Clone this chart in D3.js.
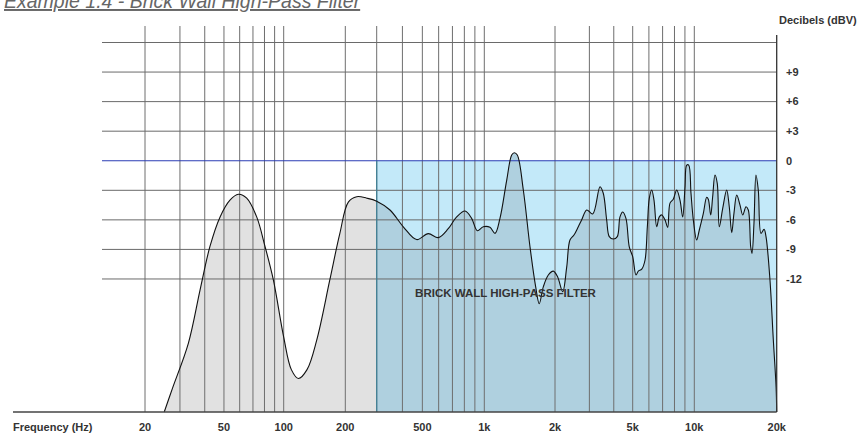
<!DOCTYPE html>
<html>
<head>
<meta charset="utf-8">
<script src="https://cdn.jsdelivr.net/npm/d3@7/dist/d3.min.js"></script>
<style>
  html, body { margin: 0; padding: 0; background: #fff; }
  svg { display: block; font-family: "Liberation Sans", Arial, Helvetica, sans-serif; }
</style>
</head>
<body>
<svg id="chart" width="859" height="433"></svg>
<script>
// Measured response (frequency in Hz, level in dBV)
const freqHz = [
  25, 27.5, 33.1, 37.9, 42.5, 47.8, 53.6, 59.1, 65.1, 73.1, 80.5, 88.7, 100,
  109, 118, 130, 145, 168, 188, 208, 232, 264, 300,
  348, 404, 469, 534, 598, 668, 734, 806, 868, 925, 989,
  1057, 1111, 1166, 1246, 1308, 1342, 1382, 1466, 1565, 1655, 1714, 1783, 1873, 1967,
  2064, 2190, 2296, 2386, 2502, 2632, 2740, 2907, 3120, 3400, 3534, 3678, 3794, 3978,
  4169, 4304, 4444, 4618, 4802,
  5000, 5190, 5325, 5536, 5742, 5896, 6028, 6192, 6354, 6549, 6745, 6930, 7190, 7413,
  7607, 7893, 8204, 8514, 8778, 9008, 9182, 9390, 9635, 9890,
  10200, 10430, 10790, 11100, 11250, 11480, 11670, 11900, 12130, 12340, 12700, 13130,
  13420, 13700, 13960, 14290, 14690, 15030, 15450, 15750, 16070, 16250, 16520, 16800,
  17130, 17530, 17980, 18280, 18900, 19440, 19900, 20000
];
const levelDb = [
  -25.5, -23.1, -18.5, -13.1, -8.7, -5.7, -4.0, -3.4, -3.8, -5.7, -8.7, -12.1, -17.9,
  -21.2, -22.1, -21.2, -18.2, -12.1, -7.4, -4.2, -3.65, -3.8, -4.1,
  -5.0, -6.7, -8.0, -7.4, -7.8, -6.9, -5.7, -5.1, -5.85, -7.1, -6.7,
  -6.76, -7.37, -5.85, -1.96, 0.58, 0.81, 0.58, -2.97, -8.73, -12.8, -14.5, -12.8, -11.6, -11.2,
  -11.8, -13.3, -10.8, -8.05, -7.54, -6.7, -6.0, -5.0, -5.4, -2.64, -3.3, -6.0, -7.7, -7.95,
  -7.7, -5.7, -5.2, -5.85, -8.73,
  -9.74, -11.6, -11.2, -11.0, -10.1, -6.7, -3.8, -2.97, -4.0, -6.7, -5.7, -5.5, -6.0, -6.76,
  -4.3, -3.9, -2.97, -4.0, -5.7, -2.64, -0.44, -0.44, -3.3, -6.0,
  -8.05, -7.03, -5.34, -3.71, -3.9, -5.5, -3.65, -1.45, -2.3, -6.7, -4.83, -2.97,
  -4.67, -7.3, -5.34, -3.48, -4.5, -5.5, -4.67, -5.0, -8.73, -9.4, -6.35, -1.45,
  -2.97, -7.37, -6.96, -7.7, -12.1, -18.2, -23.0, -25.5
];

// Grid and axis ticks
const freqGrid = [20, 30, 40, 50, 60, 70, 80, 90, 100, 200, 300, 400, 500, 600, 700, 800, 900,
                  1000, 2000, 3000, 4000, 5000, 6000, 7000, 8000, 9000, 10000];
const freqTicks = [20, 50, 100, 200, 500, 1000, 2000, 5000, 10000, 20000];
const freqTickLabels = ["20", "50", "100", "200", "500", "1k", "2k", "5k", "10k", "20k"];
const dbGrid = [12, 9, 6, 3, -3, -6, -9, -12];
const dbTicks = [9, 6, 3, 0, -3, -6, -9, -12];
const dbTickLabels = ["+9", "+6", "+3", "0", "-3", "-6", "-9", "-12"];

// Filter band: passes from 300 Hz up to 20 kHz, ceiling at 0 dBV
const filterLowHz = 300;
const filterHighHz = 20000;
const filterCeilingDb = 0;
const floorDb = -25.5;
const topDb = 12;

const svg = d3.select("#chart");

// Frequency axis drawn on a hand-spaced log grid (piecewise log scale)
const x = d3.scaleLog()
  .domain([20, 100, 200, 300, 1000, 2000, 5000, 10000, 20000])
  .range([145, 283.7, 345.3, 376.7, 484.3, 555, 632.7, 694.3, 776.7]);
const y = d3.scaleLinear().domain([floorDb, topDb]).range([412, 42.5]);

const gridLeft = 102;
const xMax = x(filterHighHz);
const yBottom = y(floorDb);

const data = freqHz.map((f, i) => ({ f, db: levelDb[i] }));

// Filter pass band
svg.append("rect")
  .attr("x", x(filterLowHz)).attr("y", y(filterCeilingDb))
  .attr("width", x(filterHighHz) - x(filterLowHz))
  .attr("height", yBottom - y(filterCeilingDb))
  .attr("fill", "#c3e9f9");

const defs = svg.append("defs");
defs.append("clipPath").attr("id", "belowFilter").append("rect")
  .attr("x", 0).attr("y", 0).attr("width", x(filterLowHz)).attr("height", 433);
defs.append("clipPath").attr("id", "inFilter").append("rect")
  .attr("x", x(filterLowHz)).attr("y", 0).attr("width", 859 - x(filterLowHz)).attr("height", 433);

const curve = d3.curveCatmullRom.alpha(0.5);
const area = d3.area().x(d => x(d.f)).y0(yBottom).y1(d => y(d.db)).curve(curve);
const line = d3.line().x(d => x(d.f)).y(d => y(d.db)).curve(curve);

svg.append("path").datum(data).attr("d", area)
  .attr("fill", "#e1e1e1").attr("clip-path", "url(#belowFilter)");
svg.append("path").datum(data).attr("d", area)
  .attr("fill", "#afd0df").attr("clip-path", "url(#inFilter)");

// Vertical frequency grid
svg.append("g").selectAll("line").data(freqGrid).join("line")
  .attr("x1", d => x(d)).attr("x2", d => x(d))
  .attr("y1", 26).attr("y2", yBottom)
  .attr("stroke", "#6e6e6e").attr("stroke-width", 1);

// Horizontal level grid
svg.append("g").selectAll("line").data(dbGrid).join("line")
  .attr("x1", gridLeft).attr("x2", xMax)
  .attr("y1", d => y(d)).attr("y2", d => y(d))
  .attr("stroke", "#6a6a6a").attr("stroke-width", 1);

// 0 dBV reference
svg.append("line")
  .attr("x1", gridLeft).attr("x2", xMax)
  .attr("y1", y(filterCeilingDb)).attr("y2", y(filterCeilingDb))
  .attr("stroke", "#2b3cb4").attr("stroke-width", 1.1);

// Low edge of the filter
svg.append("line")
  .attr("x1", x(filterLowHz)).attr("x2", x(filterLowHz))
  .attr("y1", y(filterCeilingDb)).attr("y2", yBottom)
  .attr("stroke", "#3f8197").attr("stroke-width", 1.2);

// Response curve
svg.append("path").datum(data).attr("d", line)
  .attr("fill", "none").attr("stroke", "#111").attr("stroke-width", 1.1);

// Axis frame
svg.append("line")
  .attr("x1", 13).attr("x2", xMax).attr("y1", yBottom).attr("y2", yBottom)
  .attr("stroke", "#444").attr("stroke-width", 1.3);
svg.append("line")
  .attr("x1", xMax).attr("x2", xMax).attr("y1", 35).attr("y2", yBottom)
  .attr("stroke", "#333").attr("stroke-width", 1.3);

const labelColor = "#333";

// Frequency labels
svg.append("g").selectAll("text").data(freqTicks).join("text")
  .attr("x", d => x(d)).attr("y", 430.5)
  .attr("text-anchor", "middle")
  .attr("font-size", 11).attr("font-weight", "bold").attr("fill", labelColor)
  .text((d, i) => freqTickLabels[i]);

svg.append("text").attr("x", 13).attr("y", 430.5)
  .attr("font-size", 11).attr("font-weight", "bold").attr("fill", labelColor)
  .text("Frequency (Hz)");

// Level labels
svg.append("g").selectAll("text").data(dbTicks).join("text")
  .attr("x", 786).attr("y", d => y(d)).attr("dy", "0.35em")
  .attr("font-size", 11).attr("font-weight", "bold").attr("fill", labelColor)
  .text((d, i) => dbTickLabels[i]);

svg.append("text").attr("x", 779).attr("y", 20).attr("dy", "0.35em")
  .attr("font-size", 11).attr("font-weight", "bold").attr("fill", labelColor)
  .text("Decibels (dBV)");

// Filter caption
svg.append("text").attr("x", 505.5).attr("y", 297)
  .attr("text-anchor", "middle")
  .attr("font-size", 11.5).attr("font-weight", "bold").attr("fill", "#333")
  .text("BRICK WALL HIGH-PASS FILTER");

// Title
svg.append("text").attr("x", 4).attr("y", 8)
  .attr("font-size", 19.5).attr("font-style", "italic").attr("fill", "#666")
  .attr("text-decoration", "underline")
  .text("Example 1.4 - Brick Wall High-Pass Filter");
</script>
</body>
</html>
